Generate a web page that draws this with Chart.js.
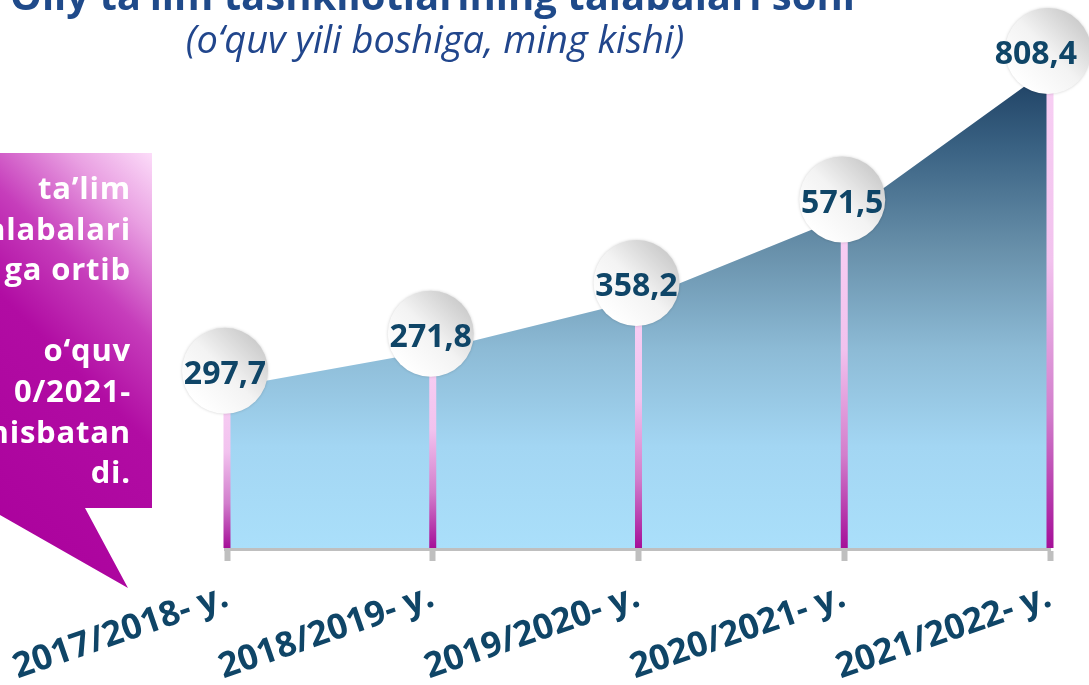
<!DOCTYPE html>
<html>
<head>
<meta charset="utf-8">
<script src="https://cdn.jsdelivr.net/npm/chart.js@4.4.0/dist/chart.umd.min.js"></script>
<style>
  html, body { margin: 0; padding: 0; background: #fff; overflow: hidden; }
  #wrap { position: relative; width: 1089px; height: 685px; overflow: hidden; font-family: "Open Sans", sans-serif; }
  #chart { position: absolute; left: 0; top: 0; }
  .title {
    position: absolute; left: 0; top: -25px; width: 865px; text-align: center;
    font-weight: bold; font-size: 40px; line-height: 40px; color: #1f4a8a; white-space: nowrap;
  }
  .subtitle {
    position: absolute; left: 0; top: 19px; width: 870px; text-align: center;
    font-style: italic; font-size: 38px; line-height: 38px; color: #21468c; white-space: nowrap;
  }
  .callout {
    position: absolute; left: 0; top: 153px; width: 152px; height: 435px;
    background: linear-gradient(225deg, #fcdcf9 0%, #e9a0e2 14%, #c63dbb 32%, #b10ca3 50%, #aa009c 100%);
    clip-path: polygon(0 0, 152px 0, 152px 355px, 85px 355px, 128px 435px, 0 362px);
  }
  .callout-text {
    position: absolute; right: 21px; top: 14px; text-align: right;
    font-weight: bold; font-size: 31px; line-height: 40.6px; letter-spacing: 0.8px;
    color: #fff; white-space: nowrap;
  }
</style>
</head>
<body>
<div id="wrap">
  <canvas id="chart" width="1089" height="685"></canvas>
  <div class="title">Oliy ta’lim tashkilotlarining talabalari soni</div>
  <div class="subtitle">(o‘quv yili boshiga, ming kishi)</div>
  <div class="callout">
    <div class="callout-text">ta’lim<br>alabalari<br>ga ortib<br>&nbsp;<br>o‘quv<br>0/2021-<br>nisbatan<br>di.</div>
  </div>
</div>
<script>
const categories = ["2017/2018- y.", "2018/2019- y.", "2019/2020- y.", "2020/2021- y.", "2021/2022- y."];
// heights of the area as drawn on the slide (thousand people)
const students = [297.7, 357, 438, 571.5, 808.4];
// numbers printed in the bubbles
const valueLabels = ["297,7", "271,8", "358,2", "571,5", "808,4"];

const labelColor = "#0f4567";

// pink drop lines + white bubbles with the value text
const bubblePlugin = {
  id: "bubbles",
  afterDatasetsDraw(chart) {
    const ctx = chart.ctx;
    const area = chart.chartArea;
    const points = chart.getDatasetMeta(0).data;

    points.forEach(p => {
      const grad = ctx.createLinearGradient(0, p.y, 0, area.bottom);
      grad.addColorStop(0, "#f8d0f4");
      grad.addColorStop(0.4, "#f2c2ee");
      grad.addColorStop(0.72, "#d27ecc");
      grad.addColorStop(1, "#a50f98");
      ctx.fillStyle = grad;
      ctx.fillRect(p.x - 3.5, p.y, 7, area.bottom - p.y);
    });

    const r = 43;
    points.forEach((p, i) => {
      const cx = p.x - 2, cy = p.y - 17;
      ctx.save();
      const g = ctx.createLinearGradient(cx - r * 0.7, cy + r * 0.7, cx + r * 0.7, cy - r * 0.7);
      g.addColorStop(0, "#ffffff");
      g.addColorStop(0.5, "#f3f3f3");
      g.addColorStop(1, "#cdcdcd");
      ctx.shadowColor = "rgba(0,0,0,0.18)";
      ctx.shadowBlur = 3;
      ctx.beginPath();
      ctx.arc(cx, cy, r, 0, Math.PI * 2);
      ctx.fillStyle = g;
      ctx.fill();
      ctx.restore();

      ctx.save();
      ctx.font = "bold 32px 'Open Sans'";
      ctx.fillStyle = labelColor;
      ctx.textAlign = "center";
      ctx.textBaseline = "middle";
      const w = ctx.measureText(valueLabels[i]).width;
      let tx = cx;
      if (tx + w / 2 > chart.width - 12) tx = chart.width - 12 - w / 2;
      ctx.fillText(valueLabels[i], tx, cy + 4);
      ctx.restore();
    });
  }
};

const ctx = document.getElementById("chart").getContext("2d");
new Chart(ctx, {
  type: "line",
  data: {
    labels: categories,
    datasets: [{
      data: students,
      fill: "start",
      borderWidth: 0,
      pointRadius: 0,
      tension: 0,
      backgroundColor: (c) => {
        const area = c.chart.chartArea;
        if (!area) return "#8dbbd6";
        const g = c.chart.ctx.createLinearGradient(0, area.top, 0, area.bottom);
        g.addColorStop(0.05, "#1b3d60");
        g.addColorStop(0.21, "#3a6283");
        g.addColorStop(0.41, "#6890aa");
        g.addColorStop(0.61, "#8dbbd6");
        g.addColorStop(0.8, "#a3d6f3");
        g.addColorStop(1, "#aadffa");
        return g;
      }
    }]
  },
  options: {
    responsive: false,
    animation: false,
    devicePixelRatio: 1,
    layout: { padding: { left: 227, right: 39, top: 42, bottom: 0 } },
    plugins: { legend: { display: false }, tooltip: { enabled: false } },
    scales: {
      y: { display: false, min: 42, max: 850 },
      x: {
        offset: false,
        grid: { drawOnChartArea: false, drawTicks: true, tickLength: 13, tickWidth: 6, tickColor: "#bfbfbf" },
        border: { display: true, color: "#bfbfbf", width: 6 },
        ticks: {
          color: labelColor,
          font: { family: "Open Sans", weight: "bold", size: 35 },
          minRotation: 19,
          maxRotation: 19,
          padding: 15,
          autoSkip: false
        },
        afterFit(s) {
          s.height = 137;
          s.paddingLeft = 0;
          s.paddingRight = 0;
        }
      }
    }
  },
  plugins: [bubblePlugin]
});
</script>
</body>
</html>
